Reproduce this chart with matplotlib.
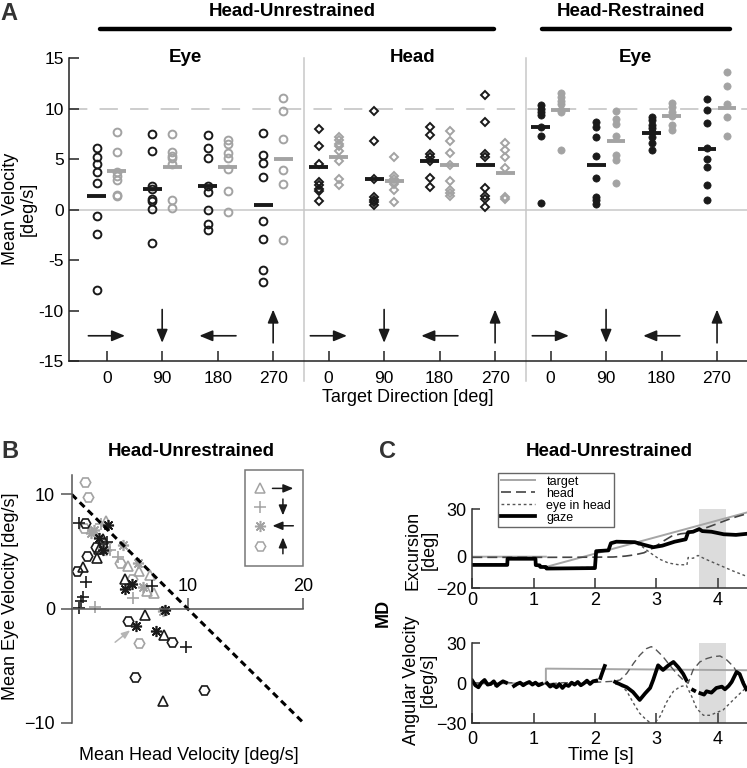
import numpy as np
import matplotlib.pyplot as plt
from matplotlib.lines import Line2D
from matplotlib.patches import Rectangle

plt.rcParams['font.family'] = ['Liberation Sans', 'DejaVu Sans']

W, H = 747, 768

# ---------------- panel A data (mean velocity, deg/s) ----------------
directions = [0, 90, 180, 270]
dir_labels = ['0', '90', '180', '270']

eye_free_k = [[6.1, 5.2, 4.5, 3.7, 2.6, -0.6, -2.4, -8.0],
              [7.5, 5.8, 2.35, 2.05, 1.1, 0.83, 0.07, -3.35],
              [7.35, 6.1, 5.1, 2.3, 1.7, 0.0, -1.45, -2.05],
              [7.55, 5.4, 4.65, 3.25, -1.15, -2.9, -6.0, -7.15]]
eye_free_g = [[7.7, 5.7, 3.7, 3.3, 2.9, 1.5, 1.4],
              [7.45, 5.75, 5.35, 5.1, 4.55, 1.0, 0.15],
              [6.9, 6.5, 5.6, 5.1, 4.0, 1.85, -0.25],
              [11.05, 9.8, 7.05, 3.95, 2.55, -3.05]]
eye_free_km = [1.35, 2.0, 2.35, 0.45]
eye_free_gm = [3.8, 4.2, 4.2, 5.05]

head_free_k = [[7.95, 6.3, 4.5, 2.75, 2.4, 2.05, 1.8, 0.85],
               [9.75, 6.8, 3.0, 1.25, 1.0, 0.75, 0.45],
               [8.15, 7.4, 5.55, 5.25, 4.85, 3.1, 2.2],
               [11.4, 8.7, 5.55, 5.25, 2.1, 1.4, 1.1, 0.25]]
head_free_g = [[7.2, 6.9, 6.55, 6.3, 5.8, 4.8, 3.0, 2.4],
               [5.25, 3.3, 3.0, 2.75, 2.5, 1.9, 0.75],
               [7.8, 6.8, 5.65, 4.4, 2.85, 1.9, 1.65, 1.4],
               [6.6, 5.9, 5.25, 4.15, 1.3, 1.1]]
head_free_km = [4.25, 3.0, 4.8, 4.4]
head_free_gm = [5.25, 2.8, 4.4, 3.6]

eye_fixed_k = [[10.35, 10.0, 9.7, 9.35, 8.2, 7.3, 0.65],
               [8.65, 8.2, 7.2, 5.3, 3.1, 1.25, 0.95, 0.6],
               [9.2, 8.85, 8.4, 8.05, 7.7, 7.2, 6.6, 5.95],
               [10.95, 9.85, 8.6, 6.15, 5.0, 4.25, 2.4, 1.0]]
eye_fixed_g = [[11.6, 11.2, 10.8, 10.45, 9.85, 9.65, 5.9],
               [9.8, 8.95, 8.5, 7.3, 5.45, 4.95, 2.6],
               [10.55, 10.15, 9.7, 9.25, 8.4, 7.9],
               [13.6, 12.25, 10.45, 9.15, 7.3]]
eye_fixed_km = [8.2, 4.45, 7.6, 6.0]
eye_fixed_gm = [9.85, 6.8, 9.25, 10.05]

# ---------------- panel B data (head vs eye velocity) ----------------
tri_k_x = [2.7, 2.4, 2.2, 1.0, 4.6, 6.3, 8.0, 7.9]
tri_k_y = [6.1, 5.2, 4.4, 3.6, 2.55, -0.6, -2.35, -8.1]
tri_g_x = [3.0, 2.7, 4.9, 5.8, 6.75, 6.5, 7.15]
tri_g_y = [7.7, 5.7, 3.7, 3.3, 2.9, 1.5, 1.4]
plus_k_x = [0.65, 3.05, 1.2, 6.9, 0.95, 0.8, 0.65, 9.85]
plus_k_y = [7.5, 5.8, 2.3, 2.0, 1.0, 0.7, 0.05, -3.35]
plus_g_x = [2.0, 5.3, 2.5, 3.0, 2.75, 3.3, 4.0]
plus_g_y = [0.1, 0.9, 7.45, 5.75, 5.35, 5.1, 4.55]
ast_k_x = [3.1, 2.35, 2.7, 5.2, 4.6, 8.1, 5.55, 7.25]
ast_k_y = [7.35, 6.2, 5.1, 2.15, 1.7, -0.1, -1.55, -2.0]
ast_g_x = [1.65, 1.9, 4.45, 2.95, 5.7, 6.2, 7.85]
ast_g_y = [6.65, 6.9, 5.55, 5.1, 4.0, 1.85, -0.25]
hex_k_x = [1.15, 2.1, 1.35, 0.45, 4.9, 8.7, 5.45, 11.45]
hex_k_y = [7.5, 5.4, 4.6, 3.25, -1.1, -2.9, -6.0, -7.15]
hex_g_x = [1.15, 1.45, 1.1, 4.15, 5.2, 5.8]
hex_g_y = [11.05, 9.8, 7.05, 3.95, 2.55, -3.05]

# ---------------- panel C data (example trial, monkey MD) ----------------
nan = np.nan
target_t = [0, 1.2, nan, 1.2, 4.48]
target_p = [0, 0, nan, -6.5, 28.0]
head_t = [0, 1.2, 2.0, 2.3, 2.5, 2.65, 2.8, 2.95, 3.1, 3.25, 3.4, 3.55, 3.7,
          3.85, 4.0, 4.15, 4.3, 4.48]
head_p = [-0.4, -0.4, -0.3, -0.2, 0.4, 1.2, 2.5, 5.5, 9.5, 13.0, 14.5, 15.2,
          16.8, 18.8, 21.0, 23.2, 25.2, 27.2]
eye_t = [0, 0.57, 0.575, 1.03, 1.035, 1.1, 1.11, 1.2, 1.21, 2.0, 2.02, 2.22,
         2.26, 2.35, 2.6, 2.75, 2.9, 3.05, 3.2, 3.35, 3.5, 3.52, 3.6, 3.68,
         3.8, 3.95, 4.1, 4.25, 4.48]
eye_p = [-4.8, -4.8, -0.9, -0.9, -4.9, -5.1, -6.1, -6.1, -7.1, -6.8, 3.9, 4.4,
         8.9, 9.7, 9.0, 7.0, 2.5, -1.5, -4.0, -5.0, -5.2, -0.5, -1.0, 0.8,
         -1.5, -4.0, -6.5, -9.0, -12.5]
gaze_t = [0, 0.57, 0.575, 1.03, 1.035, 1.1, 1.11, 1.2, 1.21, 2.0, 2.02, 2.22,
          2.26, 2.35, 2.65, 2.8, 2.95, 3.1, 3.3, 3.48, 3.52, 3.6, 3.7, 3.75,
          3.9, 4.1, 4.3, 4.48]
gaze_p = [-5.2, -5.2, -1.3, -1.3, -5.3, -5.5, -6.5, -6.5, -7.5, -7.2, 3.5, 4.0,
          8.5, 9.5, 9.2, 7.5, 6.0, 7.0, 9.5, 11.0, 15.5, 15.8, 17.5, 16.2,
          15.8, 14.2, 13.8, 14.5]

target_vt = [0, 1.2, 1.2, 4.48]
target_v = [0, 0, 11.0, 9.8]
head_vt = [0, 0.3, 0.6, 0.9, 1.2, 1.5, 1.8, 2.1, 2.3, 2.41, 2.52, 2.63, 2.73,
           2.84, 2.92, 3.0, 3.11, 3.22, 3.33, 3.44, 3.52, 3.6, 3.71, 3.82,
           3.93, 4.04, 4.15, 4.26, 4.36, 4.45]
head_v = [0.5, -0.5, 0.5, 0, -0.5, 0.5, 0, 1, 1.5, 2.5, 7.5, 15, 21, 26, 27.5,
          25, 20, 13.5, 7.5, 2.5, 0, 10, 16, 18.5, 20, 20.5, 17.5, 12.5, 5, 0]
eye_vt = [0, 0.1, 0.2, 0.3, 0.4, 0.5, 0.55, nan, 0.68, 0.8, 0.9, 1.0, 1.13, nan,
          1.22, 1.35, 1.45, 1.55, 1.65, 1.75, 1.85, 1.95, 2.02, nan, 2.33,
          2.42, 2.52, 2.63, 2.73, 2.84, 2.95, 3.06, 3.17, 3.28, 3.39, 3.49,
          3.58, 3.66, 3.77, 3.88, 3.98, 4.09, 4.2, 4.31, 4.45]
eye_v = [1.5, -2.5, 2, -1, -2.5, 1, 0, nan, -2.5, 0, 0.5, -1, 0, nan,
         0.5, -3.5, -3, -2.5, -1.5, -1, 1.5, 1, 1.5, nan, -0.5,
         -1.5, -6, -15, -22.5, -27.5, -31, -25, -14, -6, -2.5, -1.5,
         -10, -19, -24, -24, -22, -20, -15, -10, -4]
gaze_vt = [0, 0.05, 0.1, 0.15, 0.2, 0.25, 0.3, 0.35, 0.4, 0.45, 0.5, 0.55, nan,
           0.68, 0.73, 0.78, 0.83, 0.88, 0.93, 0.98, 1.03, 1.08, 1.13, nan,
           1.22, 1.27, 1.32, 1.37, 1.42, 1.47, 1.52, 1.57, 1.62, 1.67, 1.72,
           1.77, 1.82, 1.87, 1.92, 1.97, 2.02, nan,
           2.09, 2.12, 2.16, nan,
           2.33, 2.42, 2.52, 2.62, 2.73, 2.82, 2.9, 2.95, 3.03, 3.11, 3.2,
           3.28, 3.36, 3.44, 3.49, nan,
           3.6, 3.62, nan,
           3.72, 3.78, 3.82, 3.9, 3.98, 4.07, 4.12, 4.18, 4.23, 4.31, 4.36,
           4.42, 4.47]
gaze_v = [2, -1.5, -3, 0.5, 2.5, -1, -0.5, 1.5, -2, 0, 1.5, 0.5, nan,
          -2, -0.5, 0.5, -1.5, 0, 1, -1, 0.5, -1.5, -0.5, nan,
          0, -2.5, -1, -3, -0.5, -3.5, -1, -2, 0.5, -1, 1, -1.5, 0, 2, -0.5,
          1.5, 2, nan,
          4, 8, 13, nan,
          1, -1, -3, -6.5, -12.5, -7.5, -3.5, 2.5, 13.5, 10, 13.5, 16, 12, 7,
          2.5, nan,
          -5, -5.5, nan,
          -7.5, -8.5, -6, -7, -3.5, -2.5, -4.5, -2, 1, 8.5, 7, 0, -4.5]
shade_t = [3.7, 4.14]

BLACK = '#1a1a1a'
GRAY = '#a3a3a3'


def fx(px):
    return px / W


def fy(py):
    return 1 - py / H


def box(l, t, r, b):
    return [fx(l), fy(b), (r - l) / W, (b - t) / H]


fig = plt.figure(figsize=(W / 100, H / 100), dpi=100)

# ======================= A =======================
axA = fig.add_axes(box(69.3, 58.3, 747, 361))
groups = [(eye_free_k, eye_free_g, eye_free_km, eye_free_gm, 'o', 'open'),
          (head_free_k, head_free_g, head_free_km, head_free_gm, 'D', 'open'),
          (eye_fixed_k, eye_fixed_g, eye_fixed_km, eye_fixed_gm, 'o', 'fill')]
off = 0.18
for g, (blk, gry, bm, gm, mk, fill) in enumerate(groups):
    for i in range(4):
        p = 1 + 4 * g + i
        for vals, x, c in ((blk[i], p - off, BLACK), (gry[i], p + off, GRAY)):
            if fill == 'open':
                ms = 5.6 if mk == 'o' else 4.3
                axA.plot([x] * len(vals), vals, mk, ms=ms, mfc='none', mec=c,
                         mew=1.4)
            else:
                axA.plot([x] * len(vals), vals, mk, ms=5.2, mfc=c, mec=c,
                         mew=0.5)
        axA.hlines(bm[i], p - off - 0.17, p - off + 0.17, color=BLACK, lw=2.8,
                   zorder=5)
        axA.hlines(gm[i], p + off - 0.17, p + off + 0.17, color=GRAY, lw=2.8,
                   zorder=5)
        # direction arrows
        th = np.deg2rad(directions[i])
        dx, dy = np.cos(th), -np.sin(th)
        if abs(dx) > 0.5:
            cx, cy, hx, hy = p, -12.5, 0.33 * dx, 0
        else:
            cx, cy, hx, hy = p, -11.55, 0, 1.65 * dy
        axA.annotate('', xy=(cx + hx, cy + hy), xytext=(cx - hx, cy - hy),
                     arrowprops=dict(arrowstyle='-|>,head_length=0.8,head_width=0.33',
                                     color=BLACK, lw=1.2, shrinkA=0, shrinkB=0))
for sx in (4.55, 8.55):
    axA.plot([sx, sx], [15, -17], color='#c8c8c8', lw=1.1, clip_on=False,
             zorder=0)
axA.axhline(0, color='#c8c8c8', lw=1.1, zorder=0)
axA.axhline(10, color='#c0c0c0', lw=1.1, dashes=(12, 8), zorder=0)
axA.set_xlim(0.326, 12.54)
axA.set_ylim(-15, 15)
axA.set_xticks(range(1, 13))
axA.set_xticklabels(dir_labels * 3)
axA.set_yticks([-15, -10, -5, 0, 5, 10, 15])
axA.set_yticklabels(['-15', '-10', '-5', '0', '5', '10', '15'])
for s in ('top', 'right'):
    axA.spines[s].set_visible(False)
for s in ('left', 'bottom'):
    axA.spines[s].set_color('#222')
    axA.spines[s].set_linewidth(1.1)
axA.tick_params(axis='both', direction='in', length=7.5, width=1.1,
                labelsize=12.5, color='#222')
axA.tick_params(axis='x', pad=7.5)
axA.tick_params(axis='y', pad=4)

fig.text(fx(9), fy(14), 'A', size=17, weight='bold', color='#333',
         ha='center', va='center')
fig.text(fx(292.5), fy(12), 'Head-Unrestrained', size=13.5, weight='bold',
         ha='center', va='center')
fig.text(fx(631), fy(12), 'Head-Restrained', size=13.5, weight='bold',
         ha='center', va='center')
fig.add_artist(Line2D([fx(100), fx(494)], [fy(29.3)] * 2, lw=3.2, color='k',
                      solid_capstyle='round'))
fig.add_artist(Line2D([fx(541.7), fx(730)], [fy(29.3)] * 2, lw=3.2, color='k',
                      solid_capstyle='round'))
for name, px in (('Eye', 185), ('Head', 413), ('Eye', 635)):
    fig.text(fx(px), fy(57), name, size=13.5, weight='bold', ha='center',
             va='center')
fig.text(fx(19), fy(209), 'Mean Velocity\n[deg/s]', size=13, rotation=90,
         ha='center', va='center', linespacing=1.05)
fig.text(fx(408), fy(398), 'Target Direction [deg]', size=13, ha='center',
         va='center')

# ======================= B =======================
axB = fig.add_axes(box(71.7, 475, 303.3, 722.7))
series_b = [(tri_g_x, tri_g_y, '^', GRAY, 7), (plus_g_x, plus_g_y, '+', GRAY, 9),
            (ast_g_x, ast_g_y, (8, 2, 0), GRAY, 8),
            (hex_g_x, hex_g_y, 'H', GRAY, 7.5),
            (tri_k_x, tri_k_y, '^', BLACK, 7), (plus_k_x, plus_k_y, '+', BLACK, 9),
            (ast_k_x, ast_k_y, (8, 2, 0), BLACK, 8),
            (hex_k_x, hex_k_y, 'H', BLACK, 7.5)]
for xs, ys, mk, c, ms in series_b:
    axB.plot(xs, ys, linestyle='none', marker=mk, ms=ms, mfc='none', mec=c,
             mew=1.2)
axB.plot([0, 20], [10, -10], color='k', lw=2.2, dashes=(2.2, 1.5))
axB.annotate('', xy=(5.05, -1.9), xytext=(3.75, -2.95),
             arrowprops=dict(arrowstyle='-|>,head_length=0.5,head_width=0.2',
                             color='#b5b5b5', lw=1.1, shrinkA=0, shrinkB=0))
axB.set_xlim(0, 20)
axB.set_ylim(-10, 11.7)
axB.spines['bottom'].set_visible(False)
axB.spines['right'].set_visible(False)
axB.spines['top'].set_position(('data', 0))
axB.spines['top'].set_bounds(0, 20)
axB.spines['left'].set_bounds(-10, 11.7)
for s in ('top', 'left'):
    axB.spines[s].set_color('#555')
    axB.spines[s].set_linewidth(1.1)
axB.xaxis.tick_top()
axB.set_xticks([10, 20])
axB.set_yticks([-10, 0, 10])
axB.tick_params(axis='both', direction='out', length=8, width=1.1,
                labelsize=13, color='#555')
axB.tick_params(axis='x', pad=2)
axB.tick_params(axis='y', pad=4)

# symbol key
axB.add_patch(Rectangle((0.749, 0.634), 0.248, 0.386, transform=axB.transAxes,
                        fill=False, ec='#777', lw=1.1, clip_on=False))
key_marks = [('^', 7), ('+', 9), ((8, 2, 0), 8), ('H', 7.5)]
key_rows = [0.946, 0.870, 0.795, 0.715]
for (mk, ms), ry, d in zip(key_marks, key_rows, directions):
    axB.plot([0.813], [ry], marker=mk, ms=ms, mfc='none', mec=GRAY, mew=1.1,
             transform=axB.transAxes, clip_on=False)
    th = np.deg2rad(d)
    hx, hy = 0.045 * np.cos(th), -0.033 * np.sin(th)
    axB.annotate('', xy=(0.912 + hx, ry + hy), xytext=(0.912 - hx, ry - hy),
                 xycoords='axes fraction', textcoords='axes fraction',
                 arrowprops=dict(arrowstyle='-|>,head_length=0.6,head_width=0.25',
                                 color=BLACK, lw=1.1, shrinkA=0, shrinkB=0))

fig.text(fx(9.5), fy(452), 'B', size=17, weight='bold', color='#333',
         ha='center', va='center')
fig.text(fx(190.8), fy(451.7), 'Head-Unrestrained', size=13.5, weight='bold',
         ha='center', va='center')
fig.text(fx(11), fy(596), 'Mean Eye Velocity [deg/s]', size=13, rotation=90,
         ha='center', va='center')
fig.text(fx(189), fy(756), 'Mean Head Velocity [deg/s]', size=13,
         ha='center', va='center')

# ======================= C =======================
axC1 = fig.add_axes(box(472.3, 509.3, 747, 588.3))
axC2 = fig.add_axes(box(472.3, 643.3, 747, 723.3))
axC1.axvspan(shade_t[0], shade_t[1], color='#dcdcdc', lw=0, zorder=0)
axC2.axvspan(shade_t[0], shade_t[1], color='#dcdcdc', lw=0, zorder=0)

axC1.plot(target_t, target_p, color='#a6a6a6', lw=1.4, label='target')
axC1.plot(head_t, head_p, color='#444', lw=1.2, dashes=(6, 3), label='head')
axC1.plot(eye_t, eye_p, color='#555', lw=1.0, dashes=(2, 2),
          label='eye in head')
axC1.plot(gaze_t, gaze_p, color='k', lw=2.7, label='gaze')

axC2.plot(target_vt, target_v, color='#a6a6a6', lw=1.4)
axC2.plot(head_vt, head_v, color='#555', lw=1.0, dashes=(5, 3))
axC2.plot(eye_vt, eye_v, color='#555', lw=1.0, dashes=(2, 2))
axC2.plot(gaze_vt, gaze_v, color='k', lw=2.7)

for ax, yl, yt in ((axC1, (-20, 30), [-20, 0, 30]), (axC2, (-30, 30), [-30, 0, 30])):
    ax.set_xlim(0, 4.48)
    ax.set_ylim(*yl)
    ax.set_yticks(yt)
    ax.set_xticks([0, 1, 2, 3, 4])
    for s in ('top', 'right'):
        ax.spines[s].set_visible(False)
    for s in ('left', 'bottom'):
        ax.spines[s].set_color('#333')
        ax.spines[s].set_linewidth(1.1)
    ax.tick_params(axis='both', direction='in', width=1.1, labelsize=13,
                   color='#333')
    ax.tick_params(axis='x', length=7.5)
    ax.tick_params(axis='y', length=5.5, pad=4)
axC1.tick_params(axis='x', pad=2.5)
axC2.tick_params(axis='x', pad=5.5)

leg = axC1.legend(loc='upper left', bbox_to_anchor=(fx(498.3), fy(472.7)),
                  bbox_transform=fig.transFigure, fontsize=9, frameon=True,
                  fancybox=False, edgecolor='#666', framealpha=1,
                  borderpad=0.25, labelspacing=0.0, handlelength=2.7,
                  handletextpad=0.9, borderaxespad=0)
leg.get_frame().set_linewidth(1.0)

fig.text(fx(387.5), fy(451.7), 'C', size=17, weight='bold', color='#333',
         ha='center', va='center')
fig.text(fx(609), fy(451.7), 'Head-Unrestrained', size=13.5, weight='bold',
         ha='center', va='center')
fig.text(fx(421), fy(550), 'Excursion\n[deg]', size=13, rotation=90,
         ha='center', va='center', linespacing=0.95)
fig.text(fx(420), fy(680), 'Angular Velocity\n[deg/s]', size=13, rotation=90,
         ha='center', va='center', linespacing=0.95)
fig.text(fx(383), fy(613), 'MD', size=13, weight='bold', rotation=90,
         ha='center', va='center')
fig.text(fx(601), fy(755), 'Time [s]', size=13.5, ha='center', va='center')

fig.savefig('out.png', dpi=100)
